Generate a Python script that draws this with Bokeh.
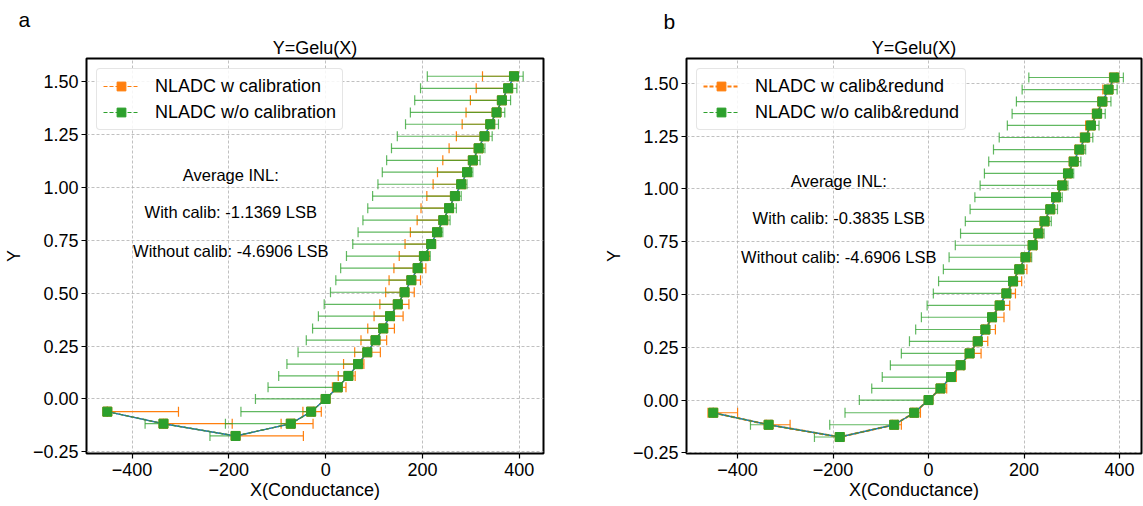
from bokeh.plotting import figure
from bokeh.layouts import row
from bokeh.models import (Whisker, TeeHead, Legend, LegendItem, Label, FixedTicker, Title,
                          CustomJSTickFormatter, ColumnDataSource, Range1d)
from bokeh.embed import file_html
from bokeh.resources import INLINE

# ---------------- data ----------------
conductance = [-451, -335, -186, -72, -30, 0, 25, 47, 67, 86, 103, 119, 133, 149, 163, 177,
               190, 203, 218, 230, 243, 255, 267, 280, 292, 304, 316, 328, 340, 353, 364, 377, 389]
gelu_y = [-0.06, -0.117, -0.175, -0.117, -0.06, 0.0, 0.055, 0.109, 0.165, 0.221, 0.278, 0.334,
          0.392, 0.448, 0.505, 0.562, 0.619, 0.676, 0.733, 0.789, 0.846, 0.903, 0.96, 1.016,
          1.073, 1.129, 1.186, 1.243, 1.3, 1.356, 1.413, 1.47, 1.527]

# without calibration (same in both panels): error-bar left / right ends
wo_cal_lo = [-451, -373, -239, -207, -175, -145, -119, -97, -80, -57, -40, -27, -15, -3, 10, 21,
             31, 43, 56, 67, 77, 87, 97, 108, 117, 126, 136, 148, 165, 175, 184, 196, 210]
wo_cal_hi = [-451, -330, -180, -65, -25, 2, 32, 54, 74, 93, 110, 126, 141, 156, 171, 185,
             200, 216, 226, 242, 257, 270, 280, 292, 304, 319, 329, 344, 357, 370, 382, 395, 408]

# panel a: with calibration
w_cal_lo = [-451, -335, -186, -92, -47, -3, 14, 26, 37, 60, 73, 87, 100, 112, 124, 131,
            141, 152, 164, 175, 189, 197, 209, 222, 231, 242, 255, 270, 282, 290, 299, 311, 324]
w_cal_hi = [-304, -193, -46, -26, -9, 3, 42, 61, 79, 113, 126, 142, 160, 172, 183, 196,
            207, 214, 226, 238, 251, 263, 275, 288, 300, 312, 324, 336, 348, 361, 372, 385, 397]

# panel b: with calibration & redundancy
w_red_lo = [-462, -340, -190, -76, -33, -2, 22, 44, 63, 82, 99, 115, 129, 144, 159, 173,
            186, 199, 211, 224, 234, 248, 260, 272, 284, 295, 307, 318, 329, 343, 355, 365, 379]
w_red_hi = [-400, -290, -180, -57, -17, 2, 38, 58, 73, 110, 124, 140, 158, 170, 182, 195,
            206, 214, 226, 238, 250, 262, 272, 285, 297, 309, 320, 333, 346, 358, 369, 382, 394]

x_ticks = [-400, -200, 0, 200, 400]
y_ticks = [-0.25, 0.0, 0.25, 0.5, 0.75, 1.0, 1.25, 1.5]

panel_a_labels = ["NLADC w calibration", "NLADC w/o calibration"]
panel_b_labels = ["NLADC w calib&redund", "NLADC w/o calib&redund"]
panel_a_texts = ["Average INL:", "With calib: -1.1369 LSB", "Without calib: -4.6906 LSB"]
panel_b_texts = ["Average INL:", "With calib: -0.3835 LSB", "Without calib: -4.6906 LSB"]

ORANGE = "#ff7f0e"
GREEN = "#2ca02c"
BLUE = "#1f77b4"
FONT = "Liberation Sans"


def make_panel(letter, o_lo, o_hi, labels, texts, orange_lw, xr, yr, width, borders,
               text_x, text_ys, letter_offset, letter_standoff):
    bl, br, bt, bb = borders
    # the figure's own title (outermost) carries the panel letter
    p = figure(width=width, height=506, output_backend="svg", toolbar_location=None,
               x_range=Range1d(*xr), y_range=Range1d(*yr), title=letter,
               min_border_left=bl, min_border_right=br, min_border_top=bt, min_border_bottom=bb)
    p.title.align = "left"
    p.title.offset = letter_offset
    p.title.standoff = letter_standoff
    p.title.text_font = FONT
    p.title.text_font_size = "21px"
    p.title.text_font_style = "normal"
    p.title.text_color = "black"

    # chart title, right above the frame
    p.add_layout(Title(text="Y=Gelu(X)", align="center", standoff=2,
                       text_font=FONT, text_font_size="18px", text_font_style="normal",
                       text_color="black"), "above")

    p.outline_line_color = "black"
    p.outline_line_width = 2
    p.background_fill_color = "white"
    p.border_fill_color = "white"

    p.xaxis.ticker = FixedTicker(ticks=x_ticks)
    p.yaxis.ticker = FixedTicker(ticks=y_ticks)
    p.xaxis.formatter = CustomJSTickFormatter(
        code='return (tick < 0 ? "\u2212" : "") + Math.abs(tick).toFixed(0);')
    p.yaxis.formatter = CustomJSTickFormatter(
        code='return (tick < -1e-9 ? "\u2212" : "") + Math.abs(tick).toFixed(2);')
    p.xaxis.axis_label = "X(Conductance)"
    p.yaxis.axis_label = "Y"
    for ax in (p.xaxis, p.yaxis):
        ax.axis_line_color = None
        ax.minor_tick_line_color = None
        ax.major_tick_out = 5
        ax.major_tick_in = 0
        ax.major_tick_line_color = "black"
        ax.major_tick_line_width = 1.2
        ax.major_label_text_font = FONT
        ax.major_label_text_font_size = "18px"
        ax.major_label_text_color = "black"
        ax.axis_label_text_font = FONT
        ax.axis_label_text_font_size = "18px"
        ax.axis_label_text_font_style = "normal"
        ax.axis_label_text_color = "black"
    p.xaxis.major_label_standoff = 4
    p.xaxis.axis_label_standoff = 1
    p.yaxis.major_label_standoff = 3
    p.yaxis.axis_label_standoff = 6

    p.grid.grid_line_color = "#b0b0b0"
    p.grid.grid_line_dash = "3 2"
    p.grid.grid_line_width = 0.8

    src_o = ColumnDataSource(dict(x=conductance, y=gelu_y, lo=o_lo, hi=o_hi))
    src_g = ColumnDataSource(dict(x=conductance, y=gelu_y, lo=wo_cal_lo, hi=wo_cal_hi))

    # ideal curve (thin blue line through the points)
    p.line("x", "y", source=src_g, line_color=BLUE, line_width=1.4)

    # orange series
    p.add_layout(Whisker(base="y", lower="lo", upper="hi", dimension="width", source=src_o,
                         line_color=ORANGE, line_width=1.2,
                         upper_head=TeeHead(size=10, line_color=ORANGE, line_width=1.2),
                         lower_head=TeeHead(size=10, line_color=ORANGE, line_width=1.2)))
    o_line = p.line("x", "y", source=src_o, line_color=ORANGE, line_width=orange_lw,
                    line_dash="4 2")
    o_sq = p.scatter("x", "y", source=src_o, marker="square", size=9, fill_color=ORANGE,
                     line_color=ORANGE)

    # green series
    p.add_layout(Whisker(base="y", lower="lo", upper="hi", dimension="width", source=src_g,
                         line_color=GREEN, line_width=1.2, line_alpha=0.75,
                         upper_head=TeeHead(size=10, line_color=GREEN, line_width=1.2, line_alpha=0.75),
                         lower_head=TeeHead(size=10, line_color=GREEN, line_width=1.2, line_alpha=0.75)))
    g_line = p.line("x", "y", source=src_g, line_color=GREEN, line_width=1.2, line_dash="4 2")
    p.line("x", "y", source=src_g, line_color=BLUE, line_width=0.8, line_alpha=0.7)
    g_sq = p.scatter("x", "y", source=src_g, marker="square", size=9, fill_color=GREEN,
                     line_color=GREEN)

    legend = Legend(items=[LegendItem(label=labels[0], renderers=[o_line, o_sq]),
                           LegendItem(label=labels[1], renderers=[g_line, g_sq])],
                    location="top_left")
    legend.label_text_font = FONT
    legend.label_text_font_size = "18px"
    legend.label_text_color = "black"
    legend.glyph_width = 36
    legend.glyph_height = 22
    legend.label_height = 22
    legend.label_standoff = 16
    legend.spacing = 4
    legend.padding = 6
    legend.margin = 10
    legend.border_line_color = "#cccccc"
    legend.border_line_width = 1
    legend.background_fill_alpha = 0.85
    if "border_radius" in Legend.properties():
        legend.border_radius = 4
    p.add_layout(legend)

    for t, ty in zip(texts, text_ys):
        p.add_layout(Label(x=text_x, y=ty, text=t, text_align="center", text_baseline="middle",
                           text_font=FONT, text_font_size="16.5px", text_color="black"))
    return p


pa = make_panel("a", w_cal_lo, w_cal_hi, panel_a_labels, panel_a_texts, 1.2,
                (-494, 450), (-0.258, 1.611), 600, (85, 57, 58, 50),
                -196, [1.058, 0.886, 0.698], -68, 8)
pb = make_panel("b", w_red_lo, w_red_hi, panel_b_labels, panel_b_texts, 2.0,
                (-507, 446), (-0.253, 1.617), 543, (84, 2, 54, 53),
                -188, [1.036, 0.864, 0.677], -23, 3)

layout = row(pa, pb)
open("out.html", "w").write(file_html(layout, INLINE))
